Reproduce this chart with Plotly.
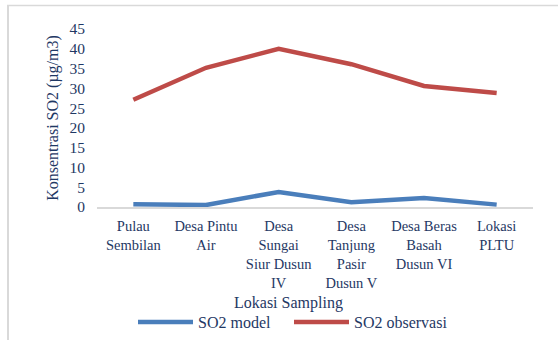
import plotly.graph_objects as go

# Sampling locations and SO2 concentrations (µg/m3)
lokasi = [
    "Pulau<br>Sembilan",
    "Desa Pintu<br>Air",
    "Desa<br>Sungai<br>Siur Dusun<br>IV",
    "Desa<br>Tanjung<br>Pasir<br>Dusun V",
    "Desa Beras<br>Basah<br>Dusun VI",
    "Lokasi<br>PLTU",
]
so2_model = [0.7, 0.5, 3.8, 1.2, 2.3, 0.6]
so2_observasi = [27.1, 35.2, 40.0, 36.1, 30.6, 28.8]
y_ticks = [0, 5, 10, 15, 20, 25, 30, 35, 40, 45]

W, H = 558, 340


def px(p):
    """Horizontal pixel -> paper fraction."""
    return p / W


def py(p):
    """Vertical pixel (from top) -> paper fraction."""
    return 1 - p / H


text_color = "#1F3864"
serif = "Liberation Serif"
font = dict(family=serif, size=16, color=text_color)
ytick_font = dict(family=serif, size=15.5, color=text_color)
xtick_font = dict(family=serif, size=14.5, color=text_color)

fig = go.Figure()
fig.add_trace(go.Scatter(
    x=lokasi, y=so2_model, mode="lines", name="SO2 model",
    line=dict(color="#4A7EBB", width=4.5), legend="legend",
))
fig.add_trace(go.Scatter(
    x=lokasi, y=so2_observasi, mode="lines", name="SO2 observasi",
    line=dict(color="#BE4B48", width=4.5), legend="legend2",
))

legend_common = dict(
    orientation="h", xanchor="left", yanchor="middle",
    font=font, itemwidth=55, bgcolor="rgba(0,0,0,0)",
)

fig.update_layout(
    width=W, height=H,
    margin=dict(l=0, r=0, t=0, b=0, autoexpand=False),
    paper_bgcolor="white", plot_bgcolor="white",
    font=font,
    showlegend=True,
    legend=dict(x=px(133), y=py(322), **legend_common),
    legend2=dict(x=px(289), y=py(322), **legend_common),
    xaxis=dict(
        type="category", domain=[px(97), px(533)],
        showgrid=False, showline=True, linecolor="#D9D9D9", linewidth=1.5,
        ticks="", tickfont=xtick_font, ticklabelstandoff=5,
        range=[-0.5, 5.5], automargin=False,
    ),
    yaxis=dict(
        domain=[py(207), py(29)], range=[0, 45], tickvals=y_ticks,
        showgrid=False, zeroline=False, showline=False, ticks="",
        tickfont=ytick_font, ticklabelstandoff=11, automargin=False,
        title=dict(text="Konsentrasi SO2 (µg/m3)", font=font, standoff=6),
    ),
    annotations=[
        dict(text="Lokasi Sampling", xref="paper", yref="paper",
             x=px(289), y=py(303), xanchor="center", yanchor="middle",
             showarrow=False, font=font),
    ],
    shapes=[
        dict(type="line", xref="paper", yref="paper",
             x0=px(8), x1=px(8), y0=py(5), y1=py(345),
             line=dict(color="#D9D9D9", width=2)),
        dict(type="line", xref="paper", yref="paper",
             x0=px(7), x1=px(560), y0=py(5.5), y1=py(5.5),
             line=dict(color="#D9D9D9", width=1.5)),
    ],
)

fig.write_html("out.html")
